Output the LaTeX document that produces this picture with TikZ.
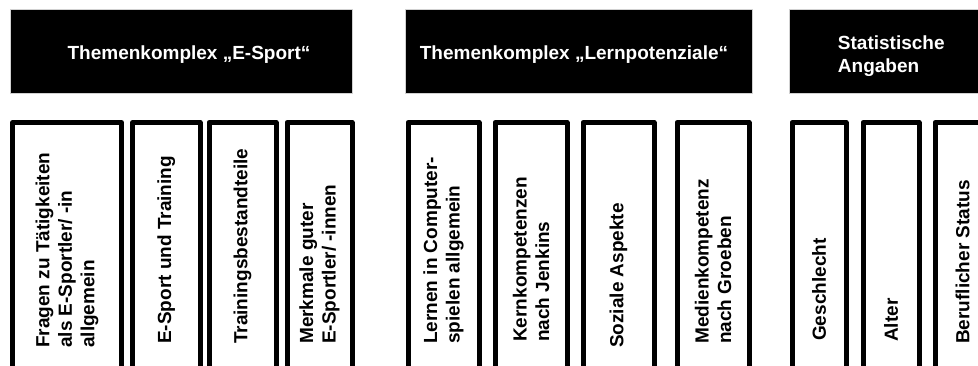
\documentclass[tikz,border=0pt]{standalone}
\usepackage{fontspec}
\setmainfont{Liberation Sans}
\begin{document}
\begin{tikzpicture}[x=1pt,y=1pt,
  hdr/.style={fill=black, draw=black!18, line width=0.5pt, anchor=north west, inner sep=0pt, minimum height=83.5pt},
  hdrtext/.style={text=white, font=\fontsize{19}{22.5}\selectfont\bfseries, inner sep=0pt, align=left},
  colbox/.style={draw=black, fill=white, line width=5pt, line join=round, anchor=north west, inner sep=0pt, minimum height=275pt},
  coltext/.style={rotate=90, anchor=west, inner sep=0pt, align=left, font=\fontsize{19}{22.5}\selectfont\bfseries}
]
\useasboundingbox (0,0) rectangle (978,365);
\clip (0,0) rectangle (978,365);
\fill[white] (0,0) rectangle (978,365);

% headers
\node[hdr, minimum width=342pt] (h1) at (9.5,355.5) {};
\node[hdr, minimum width=347pt] (h2) at (405,355.5) {};
\node[hdr, minimum width=220pt] (h3) at (789,355.5) {};
\node[hdrtext, anchor=base] (t1) at (189,305) {Themenkomplex „E-Sport“};
\node[hdrtext, anchor=base] (t2) at (574,305) {Themenkomplex „Lernpotenziale“};
\node[hdrtext, anchor=center] (t3) at (891.3,308.8) {Statistische\\Angaben};

% columns
\node[colbox, minimum width=109pt] (c1) at (10,245) {};
\node[colbox, minimum width=67.5pt] (c2) at (130,245) {};
\node[colbox, minimum width=67pt] (c3) at (206.5,245) {};
\node[colbox, minimum width=65pt] (c4) at (284.5,245) {};
\node[colbox, minimum width=71pt] (c5) at (405.5,245) {};
\node[colbox, minimum width=72pt] (c6) at (492.5,245) {};
\node[colbox, minimum width=71pt] (c7) at (580.5,245) {};
\node[colbox, minimum width=72pt] (c8) at (674.5,245) {};
\node[colbox, minimum width=54pt] (c9) at (789.5,245) {};
\node[colbox, minimum width=56pt] (c10) at (860.5,245) {};
\node[colbox, minimum width=55pt] (c11) at (932.5,245) {};

\coordinate (base) at (0,21);
\node[coltext, xshift=-4pt] (l1) at (c1.north |- base) {Fragen zu Tätigkeiten\\als E-Sportler/ -in\\allgemein};
\node[coltext] (l2) at (c2.north |- base) {E-Sport und Training};
\node[coltext] (l3) at (c3.north |- base) {Trainingsbestandteile};
\node[coltext] (l4) at (c4.north |- base) {Merkmale guter\\E-Sportler/ -innen};
\node[coltext] (l5) at (c5.north |- base) {Lernen in Computer-\\spielen allgemein};
\node[coltext, xshift=2pt] (l6) at (c6.north |- base) {Kernkompetenzen\\nach Jenkins};
\node[coltext, xshift=-4pt] (l7) at (c7.north |- base) {Soziale Aspekte};
\node[coltext] (l8) at (c8.north |- base) {Medienkompetenz\\nach Groeben};
\node[coltext, xshift=3pt] (l9) at (c9.north |- base) {Geschlecht};
\node[coltext, xshift=2pt] (l10) at (c10.north |- base) {Alter};
\node[coltext] (l11) at (c11.north |- base) {Beruflicher Status};
\end{tikzpicture}
\end{document}
